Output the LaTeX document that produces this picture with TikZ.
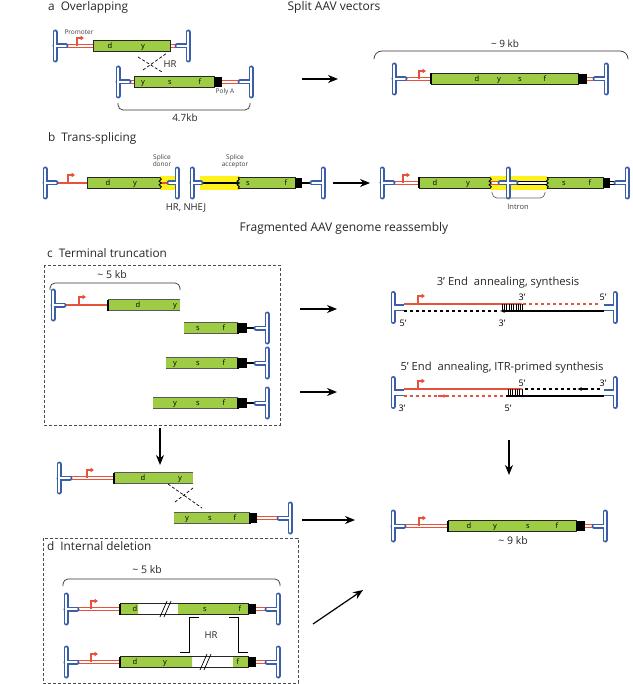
\documentclass[tikz,border=0pt]{standalone}
\usepackage{fontspec}
\setmainfont{Open Sans}
\usetikzlibrary{arrows.meta}
\definecolor{itrblue}{HTML}{3B5EAA}
\definecolor{vecred}{HTML}{E5533D}
\definecolor{genegreen}{HTML}{9FCC45}
\definecolor{spliceyellow}{HTML}{FFF21A}
\begin{document}
\begin{tikzpicture}[x=1pt, y=-1pt,
  itrline/.style={draw=itrblue, line width=1.8pt, double=white, double distance=1.4pt, line cap=round},
  redds/.style={draw=vecred, line width=0.95pt, double=white, double distance=1.2pt},
  blkds/.style={draw=black, line width=0.95pt, double=white, double distance=1.2pt},
  gene/.style={fill=genegreen, draw=black!85, line width=0.7pt},
  edge/.style={draw=black!65, line width=0.7pt},
  endbar/.style={line width=1.9pt},
  polya/.style={fill=black},
  cross/.style={line width=0.7pt, dash pattern=on 3pt off 2pt},
  frame/.style={draw=black!70, line width=0.8pt, dash pattern=on 3pt off 2pt},
  brace/.style={rounded corners=5pt, line width=0.7pt, draw=black!80},
  arr/.style={-{Stealth[length=10pt,width=8pt]}, line width=1.2pt},
  strand/.style={line width=1.1pt},
  title/.style={font=\fontsize{11.8}{13}\selectfont, anchor=west, inner sep=0, text=black!85},
  head/.style={font=\fontsize{12}{13}\selectfont, inner sep=0, text=black!85},
  glab/.style={font=\fontsize{7.5}{8}\selectfont, inner sep=0, anchor=base},
  small/.style={font=\fontsize{6.5}{7}\selectfont, text=black!75, inner sep=0, align=center},
  lbl/.style={font=\fontsize{9.5}{11}\selectfont, inner sep=0, text=black!85},
  endlbl/.style={font=\fontsize{9}{10}\selectfont, inner sep=0},
  itr/.pic={\path[itrline] (0,-14) -- (0,14) (0,0) -- (#1,0);},
  itrw/.pic={\path[itrline] (0,-14) -- (0,14);
    \path[itrline, double distance=4pt, line cap=butt] ({0.1*#1},0) -- (#1,0);},
  prom/.pic={\draw[vecred, line width=1.1pt, -{Triangle[length=3.5pt,width=4.5pt]}] (0,0) -- (0,-8) -- (7,-8);},
  jag/.pic={\draw[line width=0.9pt] (0,-5.5) -- (1.3,-3.7) -- (-0.9,-1.8) -- (1.3,0) -- (-0.9,1.8) -- (1.3,3.7) -- (0,5.5);}
]
\useasboundingbox (0,0) rectangle (632,684);

% a Overlapping
\node[title] (ta) at (48,7) {a\hspace{6pt}Overlapping};
\node[head] (tsplit) at (334,7) {Split AAV vectors};

\draw[redds] (66,46) -- (177,46);
\draw[gene] (93,40.5) rectangle (170,51.5);
\foreach \t/\x in {d/110, y/143} \node[glab] (a1\t) at (\x,48.6) {\t};
\pic at (55,46) {itr=11};
\pic at (188,46) {itr=-11};
\pic at (77,46) {prom};
\node[small] (promA) at (79,32) {Promoter};

\draw[redds] (129,82) -- (240,82);
\draw[gene] (134,76.5) rectangle (214,87.5);
\fill[polya] (214,77) rectangle (222,87);
\foreach \t/\x in {y/143, s/170, f/200} \node[glab] (a2\t) at (\x,84.6) {\t};
\pic at (118,82) {itr=11};
\pic at (251,82) {itr=-11};
\node[small] (polyA) at (225,92) {Poly A};

\draw[cross] (138,57) -- (162,72) (143,70) -- (167,53);
\node[lbl] (hrA) at (170,64) {HR};
\draw[brace] (118,103) -- (118,110) -- (250,110) -- (250,103);
\node[lbl, font=\fontsize{10}{11}\selectfont] (kbA) at (185,118) {4.7kb};

\coordinate (arrAs) at (302,79);
\coordinate (arrAe) at (338,79);
\draw[arr] (arrAs) -- (arrAe);

% result a
\draw[redds] (405,79) -- (595,79);
\draw[gene] (431,73.5) rectangle (578,84.5);
\draw[endbar] (431,73.5) -- (431,84.5);
\fill[polya] (578,74) rectangle (587,84);
\foreach \t/\x in {d/477, y/499, s/520, f/545} \node[glab] (ar\t) at (\x,81.6) {\t};
\pic at (394,79) {itr=11};
\pic at (606,79) {itr=-11};
\pic at (419,79) {prom};
\draw[brace, rounded corners=8pt] (374,58) -- (374,51) -- (628,51) -- (628,58);
\node[lbl, font=\fontsize{10}{11}\selectfont] (kbAr) at (505,44) {\textasciitilde\ 9 kb};

% b Trans-splicing
\node[title] (tb) at (48,138) {b\hspace{6pt}Trans-splicing};
\fill[spliceyellow] (160,176) rectangle (175,190);
\fill[spliceyellow] (200,176) rectangle (240,190);
\draw[vecred, strand] (56,183) -- (87,183) (160,183) -- (170,183);
\fill[genegreen] (87,177.5) rectangle (160,188.5);
\draw[draw=black!85, line width=0.7pt] (160,177.5) -- (87,177.5) -- (87,188.5) -- (160,188.5);
\pic at (160,183) {jag};
\foreach \t/\x in {d/108, y/135} \node[glab] (b1\t) at (\x,185.6) {\t};
\pic at (45,183) {itr=11};
\pic at (68,183) {prom};
\pic at (177,183) {itr=-8};

\draw[line width=1.3pt] (201,183) -- (240,183);
\fill[genegreen] (238,177.5) rectangle (295,188.5);
\draw[draw=black!85, line width=0.7pt] (238,177.5) -- (295,177.5) -- (295,188.5) -- (238,188.5);
\pic at (238,183) {jag};
\foreach \t/\x in {s/248, f/286} \node[glab] (b2\t) at (\x,185.6) {\t};
\fill[polya] (295,178) rectangle (302,188);
\draw[strand] (302,183) -- (313,183);
\pic at (192,183) {itr=9};
\pic at (323,183) {itr=-11};
\node[small] (sdonor) at (162,161) {Splice\\donor};
\node[small] (sacc) at (235,161) {Splice\\acceptor};
\node[lbl] (hrB) at (186,208) {HR, NHEJ};

\coordinate (arrBs) at (333,183);
\coordinate (arrBe) at (370,183);
\draw[arr] (arrBs) -- (arrBe);

% result b
\fill[spliceyellow] (490,176) rectangle (547,190);
\draw[redds] (393,183) -- (502,183);
\draw[blkds] (514,183) -- (616,183);
\fill[genegreen] (419,177.5) rectangle (490,188.5);
\draw[draw=black!85, line width=0.7pt] (490,177.5) -- (419,177.5) -- (419,188.5) -- (490,188.5);
\draw[endbar] (419,177.5) -- (419,188.5);
\pic at (490,183) {jag};
\fill[genegreen] (547,177.5) rectangle (603,188.5);
\draw[draw=black!85, line width=0.7pt] (547,177.5) -- (603,177.5) -- (603,188.5) -- (547,188.5);
\pic at (547,183) {jag};
\fill[polya] (603,178) rectangle (610,188);
\foreach \t/\x in {d/435, y/468, s/564, f/590} \node[glab] (br\t) at (\x,185.6) {\t};
\path[itrline] (508,169) -- (508,197) (500,183) -- (516,183);
\pic at (382,183) {itr=11};
\pic at (403,183) {prom};
\pic at (627,183) {itr=-11};
\draw[brace, draw=black!60] (492,192) -- (492,198) -- (545,198) -- (545,192);
\node[small, font=\fontsize{7.5}{8}\selectfont] (intron) at (518,207) {Intron};

\node[head] (tfrag) at (344,228) {Fragmented AAV genome reassembly};

% c Terminal truncation
\node[title] (tc) at (47,253) {c\hspace{6pt}Terminal truncation};
\draw[frame] (44,265) rectangle (280,425);
\draw[brace] (50,290) -- (50,283) -- (180,283) -- (180,290);
\node[lbl, font=\fontsize{10.5}{12}\selectfont] (kbC) at (112,275) {\textasciitilde\ 5 kb};

\draw[vecred, strand] (64,305) -- (108,305);
\fill[genegreen] (108,299.5) rectangle (180,310.5);
\draw[edge] (108,299.5) -- (180,299.5) (108,310.5) -- (180,310.5);
\draw[endbar] (108,299.5) -- (108,310.5);
\foreach \t/\x in {d/138, y/175} \node[glab] (c1\t) at (\x,307.6) {\t};
\pic at (53,305) {itr=11};
\pic at (79,305) {prom};

\foreach \yy/\xa in {328/184, 363/166, 403/153} {
  \draw[strand] (247,\yy) -- (257,\yy);
  \fill[genegreen] (\xa,\yy-5.5) rectangle (238,\yy+5.5);
  \draw[edge] (\xa,\yy-5.5) -- (238,\yy-5.5) (\xa,\yy+5.5) -- (238,\yy+5.5);
  \draw[endbar] (238,\yy-5.5) -- (238,\yy+5.5);
  \fill[polya] (239,\yy-5) rectangle (247,\yy+5);
  \pic at (267,\yy) {itr=-11};
  \node[glab] (c\yy s) at (198,\yy+2.6) {s};
  \node[glab] (c\yy f) at (224,\yy+2.6) {f};
}
\foreach \yy in {363,403} \node[glab] (c\yy y) at (175,\yy+2.6) {y};

\coordinate (arrC1s) at (300,309);
\coordinate (arrC1e) at (337,309);
\coordinate (arrC2s) at (300,392);
\coordinate (arrC2e) at (337,392);
\coordinate (arrCds) at (160,428);
\coordinate (arrCde) at (160,465);
\draw[arr] (arrC1s) -- (arrC1e);
\draw[arr] (arrC2s) -- (arrC2e);
\draw[arr] (arrCds) -- (arrCde);

% overlap of truncated halves
\draw[redds] (70,478) -- (114,478);
\fill[genegreen] (114,472.5) rectangle (193,483.5);
\draw[edge] (114,472.5) -- (193,472.5) (114,483.5) -- (193,483.5);
\draw[endbar] (114,472.5) -- (114,483.5);
\foreach \t/\x in {d/143, y/180} \node[glab] (o1\t) at (\x,480.6) {\t};
\pic at (59,478) {itr=11};
\pic at (87,478) {prom};
\draw[cross] (168,484) -- (202,508) (175,502) -- (193,488);

\draw[redds] (257,518) -- (279,518);
\fill[genegreen] (174,512.5) rectangle (250,523.5);
\draw[edge] (174,512.5) -- (250,512.5) (174,523.5) -- (250,523.5);
\draw[endbar] (250,512.5) -- (250,523.5);
\fill[polya] (250,513) rectangle (257,523);
\foreach \t/\x in {y/187, s/210, f/235} \node[glab] (o2\t) at (\x,520.6) {\t};
\pic at (290,518) {itr=-11};

\coordinate (arrOs) at (302,520);
\coordinate (arrOe) at (355,520);
\coordinate (arrDs) at (313,624);
\coordinate (arrDe) at (363,590);
\draw[arr] (arrOs) -- (arrOe);
\draw[arr] (arrDs) -- (arrDe);

% d Internal deletion
\draw[frame] (43,538) rectangle (298,683);
\node[title] (td) at (47,546) {d\hspace{6pt}Internal deletion};
\draw[brace] (63,586) -- (63,579) -- (280,579) -- (280,586);
\node[lbl, font=\fontsize{10.5}{12}\selectfont] (kbD) at (147,570) {\textasciitilde\ 5 kb};

\foreach \yy in {609,662} {
  \draw[redds] (77,\yy) -- (120,\yy) (256,\yy) -- (267,\yy);
  \fill[white] (120,\yy-5.5) rectangle (248,\yy+5.5);
}
\fill[genegreen] (120,603.5) rectangle (138,614.5) (178,603.5) rectangle (248,614.5);
\fill[genegreen] (120,656.5) rectangle (192,667.5) (233,656.5) rectangle (248,667.5);
\foreach \yy in {609,662} {
  \draw[draw=black!85, line width=0.7pt] (120,\yy-5.5) rectangle (248,\yy+5.5);
  \draw[endbar] (120,\yy-5.5) -- (120,\yy+5.5);
  \fill[polya] (248,\yy-5) rectangle (256,\yy+5);
  \pic at (66,\yy) {itr=11};
  \pic at (278,\yy) {itr=-11};
  \pic at (91,\yy) {prom};
}
\draw[line width=0.7pt] (160,617) -- (167,601) (164,617) -- (171,601);
\draw[line width=0.7pt] (200,670) -- (207,654) (204,670) -- (211,654);
\foreach \t/\x in {d/135, s/205, f/240} \node[glab] (d1\t) at (\x,611.6) {\t};
\foreach \t/\x in {d/135, y/165, f/238} \node[glab] (d2\t) at (\x,664.6) {\t};
\draw[line width=0.8pt] (180,652) -- (189,652) -- (189,617) -- (199,617)
  (229,617) -- (238,617) -- (238,652) -- (248,652);
\node[lbl] (hrD) at (211,635) {HR};

% annealing, 3' end
\node[lbl, font=\fontsize{11.2}{12}\selectfont] (ann3) at (508,283) {3’ End\hspace{3pt} annealing, synthesis};
\draw[vecred, strand, -{Latex[length=3.5pt,width=3.5pt]}] (404,304) -- (523,304);
\draw[vecred, strand, dashed] (523,304) -- (600,304);
\draw[strand, dashed] (404,311) -- (500,311);
\draw[strand, -{Latex[length=4.5pt,width=4pt]}] (604,311) -- (500,311);
\foreach \i in {0,...,9} \draw[line width=0.5pt] (502+2.3*\i,304) -- ++(0,7);
\pic at (393,307.5) {itrw=11};
\pic at (615,307.5) {itrw=-11};
\pic at (418,304) {prom};
\node[endlbl] (a3p1) at (522,297) {3’};
\node[endlbl] (a3p2) at (603,297) {5’};
\node[endlbl] (a3p3) at (403,323) {5’};
\node[endlbl] (a3p4) at (502,323) {3’};

% annealing, 5' end
\node[lbl, font=\fontsize{11.2}{12}\selectfont] (ann5) at (502,368) {5’ End\hspace{3pt} annealing, ITR-primed synthesis};
\draw[vecred, strand] (404,389) -- (522,389);
\draw[strand, dashed] (600,389) -- (522,389);
\draw[strand, -{Latex[length=4.5pt,width=4pt]}] (586,389) -- (577,389);
\draw[vecred, strand, dashed] (404,396) -- (506,396);
\draw[vecred, strand, -{Latex[length=4.5pt,width=4pt]}] (438,396) -- (448,396);
\draw[strand] (506,396) -- (604,396);
\foreach \i in {0,...,6} \draw[line width=0.5pt] (508+2.3*\i,389) -- ++(0,7);
\pic at (393,392.5) {itrw=11};
\pic at (615,392.5) {itrw=-11};
\pic at (418,389) {prom};
\node[endlbl] (a5p1) at (522,383) {5’};
\node[endlbl] (a5p2) at (603,383) {3’};
\node[endlbl] (a5p3) at (402,408) {3’};
\node[endlbl] (a5p4) at (508,408) {5’};

\coordinate (arrRs) at (509,440);
\coordinate (arrRe) at (509,475);
\draw[arr] (arrRs) -- (arrRe);

% reassembled genome
\draw[redds] (404,526) -- (594,526);
\draw[gene] (448,520.5) rectangle (576,531.5);
\draw[endbar] (448,520.5) -- (448,531.5);
\fill[polya] (576,521) rectangle (585,531);
\foreach \t/\x in {d/469, y/495, s/528, f/557} \node[glab] (rr\t) at (\x,528.6) {\t};
\pic at (393,526) {itr=11};
\pic at (605,526) {itr=-11};
\pic at (419,526) {prom};
\node[lbl, font=\fontsize{10.5}{12}\selectfont] (kbR) at (513,541) {\textasciitilde\ 9 kb};
\end{tikzpicture}
\end{document}
